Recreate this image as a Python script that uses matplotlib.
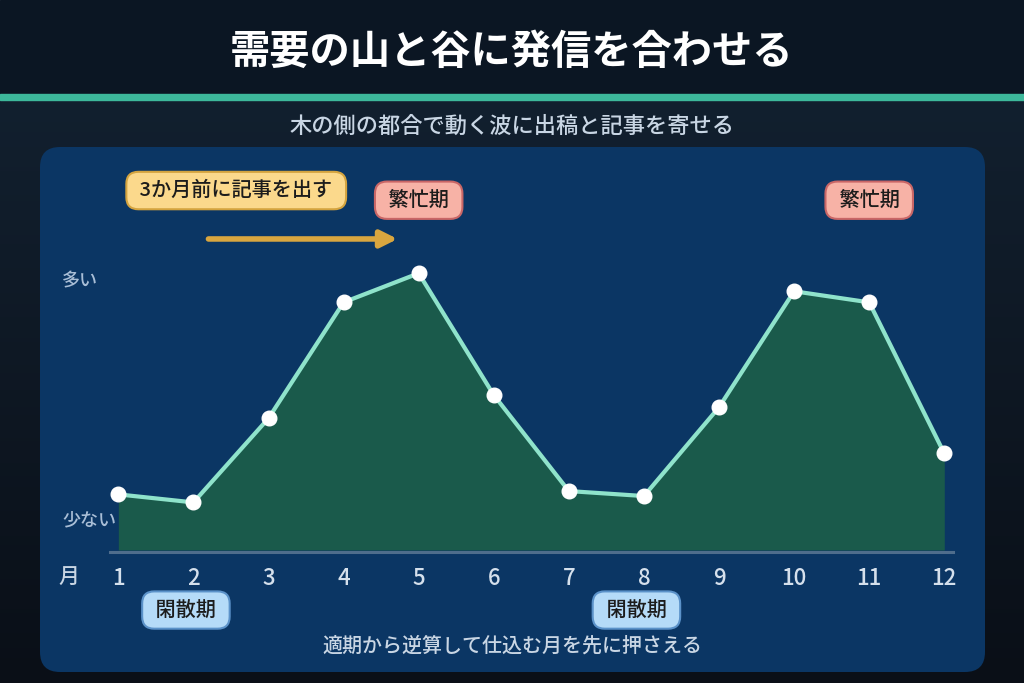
import numpy as np
import matplotlib
matplotlib.use("Agg")
import matplotlib.pyplot as plt
from matplotlib.patches import FancyBboxPatch, Rectangle
from matplotlib.colors import LinearSegmentedColormap


# -----------------------------
# DATA
# -----------------------------

months = [1, 2, 3, 4, 5, 6, 7, 8, 9, 10, 11, 12]
demand = [20.1, 17.2, 47.6, 89.5, 100, 56.0, 21.3, 19.5, 51.6, 93.5, 89.5, 34.9]
month_labels = [str(m) for m in months]

title = "需要の山と谷に発信を合わせる"
subtitle = "木の側の都合で動く波に出稿と記事を寄せる"
footnote = "適期から逆算して仕込む月を先に押さえる"

busy_label = "繁忙期"
busy_months = [5, 11]
quiet_label = "閑散期"
quiet_months = [1.9, 7.9]
lead_label = "3か月前に記事を出す"
lead_from, lead_to = 2.2, 4.72


plt.rcParams["font.family"] = ["Noto Sans CJK JP", "DejaVu Sans"]

W, H = 1024, 683
fig = plt.figure(figsize=(W / 100, H / 100), dpi=100)


# -----------------------------
# BACKGROUND (pixel overlay)
# -----------------------------

bg = fig.add_axes([0, 0, 1, 1], zorder=0)
bg.set_xlim(0, W)
bg.set_ylim(H, 0)
bg.axis("off")

grad = LinearSegmentedColormap.from_list("bg", ["#12202f", "#0a0f17"])
bg.imshow(np.linspace(0, 1, 256).reshape(-1, 1), cmap=grad, aspect="auto",
          extent=[0, W, H, 97], zorder=0)
bg.add_patch(Rectangle((0, 0), W, 94, color="#0b1623", zorder=1))
bg.add_patch(Rectangle((0, 94), W, 6, color="#3db89b", zorder=2))

bg.text(W / 2, 52, title, color="white", fontsize=29, fontweight="bold",
        ha="center", va="center", zorder=3)
bg.text(W / 2, 126, subtitle, color="#c9d6e4", fontsize=16, fontweight="medium",
        ha="center", va="center", zorder=3)

bg.add_patch(FancyBboxPatch((40, 147), 945, 525,
                            boxstyle="round,pad=0,rounding_size=20",
                            facecolor="#0b3664", edgecolor="none", zorder=2))

bg.text(62, 281, "多い", color="#a9bed6", fontsize=13, fontweight="medium",
        ha="left", va="center", zorder=3)
bg.text(62, 520, "少ない", color="#a9bed6", fontsize=13, fontweight="medium",
        ha="left", va="center", zorder=3)
bg.text(69, 578, "月", color="#c9d6e4", fontsize=15, fontweight="medium",
        ha="center", va="center", zorder=3)
bg.text(W / 2, 646, footnote, color="#c9d6e4", fontsize=14.4, fontweight="medium",
        ha="center", va="center", zorder=3)


# -----------------------------
# DEMAND CHART
# -----------------------------

left, right, bottom, top = 110, 953, 552, 260
ax = fig.add_axes([left / W, 1 - bottom / H, (right - left) / W, (bottom - top) / H],
                  zorder=1)
ax.patch.set_alpha(0)
ax.set_xlim(0.889, 12.116)
ax.set_ylim(-0.72, 104.8)

ax.fill_between(months, demand, 0, color="#1a5a4b", linewidth=0, zorder=1)
ax.plot(months, demand, color="#8fe3cb", linewidth=3, zorder=2,
        marker="o", markersize=10.5, markerfacecolor="white",
        markeredgecolor="white", clip_on=False)

for side in ["top", "left", "right"]:
    ax.spines[side].set_visible(False)
ax.spines["bottom"].set_color("#4f6d8c")
ax.spines["bottom"].set_linewidth(2.2)

ax.set_yticks([])
ax.set_xticks(months)
ax.set_xticklabels(month_labels, fontweight="medium")
ax.tick_params(axis="x", length=0, pad=11, labelsize=16, labelcolor="#d5e0ec")


# -----------------------------
# ANNOTATIONS
# -----------------------------

def tag(x, y, label, face, edge):
    ax.text(x, y, " " + label + " ", fontsize=14.5, fontweight="medium",
            color="#1c1c1c", ha="center", va="center", clip_on=False,
            bbox=dict(boxstyle="round,pad=0.45,rounding_size=0.6",
                      facecolor=face, edgecolor=edge, linewidth=1.5))


for m in busy_months:
    tag(m, 126.4, busy_label, "#f7b2a6", "#c96666")

for m in quiet_months:
    tag(m, -21.7, quiet_label, "#b5dbf8", "#5b92c9")

tag(2.57, 129.9, lead_label, "#fbd98c", "#d4a43f")

ax.annotate("", xy=(lead_to, 112.4), xytext=(lead_from, 112.4),
            annotation_clip=False,
            arrowprops=dict(arrowstyle="-|>,head_length=1.0,head_width=0.5",
                            color="#d9a63f", linewidth=4, shrinkA=0, shrinkB=0))

fig.savefig("out.png", dpi=100)
plt.close(fig)
